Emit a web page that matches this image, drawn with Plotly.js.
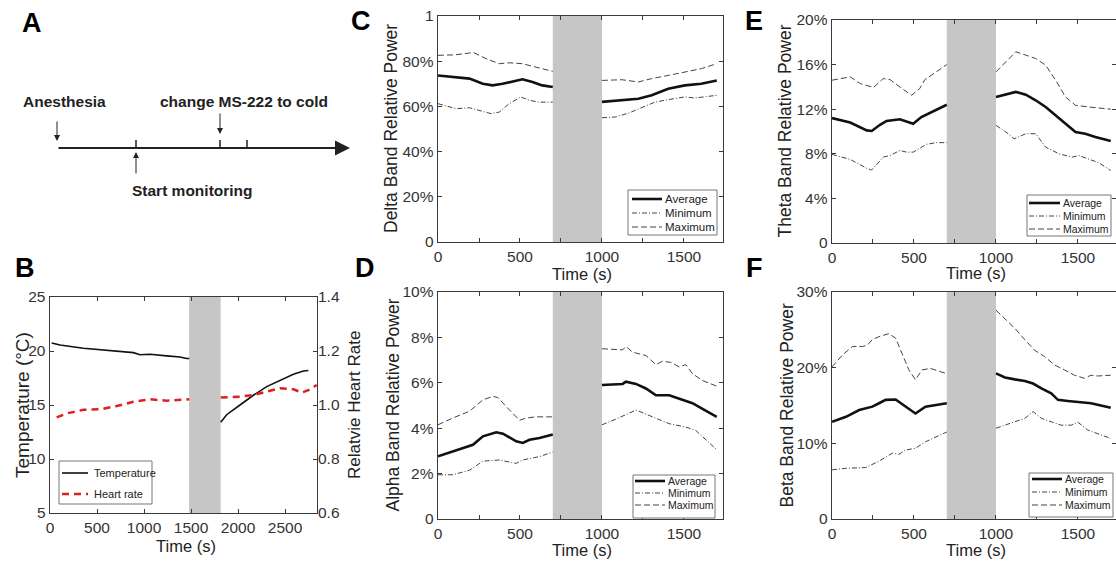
<!DOCTYPE html>
<html><head><meta charset="utf-8">
<script src="https://cdn.plot.ly/plotly-3.0.1.min.js"></script>
<style>html,body{margin:0;padding:0;background:#fff}#chart{width:1116px;height:562px}</style>
</head><body><div id="chart"></div><script>
// ---------- Panel B : temperature & heart rate ----------
const bTempTime = [18, 106, 355, 532, 887, 957, 1064, 1241, 1383, 1454, 1482, null, 1816, 1879, 2021, 2163, 2305, 2447, 2589, 2695, 2748];
const bTempVal  = [20.75, 20.55, 20.25, 20.1, 19.85, 19.65, 19.7, 19.55, 19.45, 19.3, 19.3, null, 13.4, 14.1, 15.0, 15.9, 16.7, 17.3, 17.85, 18.15, 18.2];
const bHrTime   = [71, 177, 355, 532, 710, 887, 1064, 1241, 1482, null, 1816, 2021, 2163, 2305, 2447, 2589, 2677, 2748, 2837];
const bHrVal    = [0.954, 0.969, 0.982, 0.984, 0.996, 1.012, 1.021, 1.016, 1.021, null, 1.028, 1.031, 1.037, 1.049, 1.062, 1.058, 1.046, 1.055, 1.074];
const bShade    = [1480, 1815];

// ---------- Panel C : delta band (%) ----------
const cAvgTime = [0, 192, 273, 333, 394, 495, 515, 576, 636, 700, null, 1000, 1101, 1222, 1303, 1404, 1505, 1606, 1700];
const cAvgVal  = [73.7, 72.3, 70.0, 69.3, 70.0, 71.5, 72.0, 70.8, 69.3, 68.6, null, 62.0, 62.7, 63.4, 64.9, 67.8, 69.3, 70.0, 71.5];
const cMinTime = [0, 111, 192, 253, 323, 374, 434, 505, 556, 616, 700, null, 1000, 1081, 1162, 1242, 1323, 1404, 1505, 1566, 1700];
const cMinVal  = [61.2, 59.0, 59.4, 58.3, 56.8, 57.5, 61.2, 64.2, 62.7, 61.9, 61.9, null, 55.0, 55.3, 57.0, 59.5, 61.9, 63.0, 64.2, 63.7, 64.9];
const cMaxTime = [0, 100, 192, 212, 293, 374, 434, 515, 596, 700, null, 1000, 1121, 1222, 1303, 1404, 1505, 1606, 1700];
const cMaxVal  = [82.6, 82.8, 83.6, 84.0, 81.1, 78.9, 79.3, 78.9, 77.4, 75.5, null, 71.5, 71.8, 70.8, 72.3, 73.7, 75.2, 76.7, 78.9];

// ---------- Panel D : alpha band (%) ----------
const dAvgTime = [0, 91, 152, 213, 274, 355, 396, 477, 517, 558, 619, 700, null, 1000, 1126, 1146, 1207, 1268, 1329, 1410, 1450, 1511, 1552, 1613, 1700];
const dAvgVal  = [2.76, 2.98, 3.13, 3.27, 3.64, 3.82, 3.76, 3.42, 3.35, 3.49, 3.57, 3.72, null, 5.9, 5.95, 6.05, 5.95, 5.75, 5.45, 5.45, 5.35, 5.2, 5.1, 4.85, 4.5];
const dMinTime = [0, 91, 193, 274, 375, 477, 517, 619, 700, null, 1000, 1085, 1207, 1288, 1410, 1511, 1572, 1700];
const dMinVal  = [1.95, 1.95, 2.15, 2.55, 2.6, 2.45, 2.6, 2.75, 2.95, null, 4.15, 4.4, 4.8, 4.55, 4.2, 4.05, 3.9, 3.05];
const dMaxTime = [0, 91, 193, 274, 335, 365, 416, 497, 538, 598, 700, null, 1000, 1126, 1146, 1187, 1268, 1329, 1369, 1420, 1471, 1511, 1552, 1613, 1700];
const dMaxVal  = [4.15, 4.45, 4.75, 5.25, 5.4, 5.35, 4.95, 4.35, 4.45, 4.5, 4.5, null, 7.5, 7.45, 7.6, 7.35, 7.2, 6.8, 6.95, 6.9, 6.7, 6.8, 6.4, 6.1, 5.85];

// ---------- Panel E : theta band (%) ----------
const eAvgTime = [0, 111, 212, 242, 293, 333, 414, 475, 495, 545, 616, 700, null, 1000, 1061, 1121, 1182, 1242, 1303, 1364, 1424, 1485, 1545, 1606, 1700];
const eAvgVal  = [11.2, 10.8, 10.1, 10.05, 10.6, 10.95, 11.1, 10.8, 10.7, 11.3, 11.8, 12.4, null, 13.1, 13.3, 13.55, 13.3, 12.8, 12.2, 11.45, 10.7, 9.95, 9.8, 9.5, 9.15];
const eMinTime = [0, 111, 212, 242, 313, 354, 414, 455, 495, 576, 636, 700, null, 1000, 1061, 1111, 1182, 1242, 1303, 1384, 1465, 1505, 1566, 1626, 1700];
const eMinVal  = [7.95, 7.5, 6.7, 6.55, 7.7, 7.85, 8.3, 8.15, 8.15, 8.85, 9.0, 9.0, null, 10.55, 9.95, 9.35, 9.8, 9.8, 8.6, 8.0, 7.7, 7.85, 7.5, 7.2, 6.5];
const eMaxTime = [0, 111, 172, 253, 313, 354, 414, 485, 535, 566, 636, 700, null, 1000, 1061, 1121, 1182, 1242, 1303, 1364, 1424, 1485, 1566, 1646, 1700];
const eMaxVal  = [14.6, 14.9, 14.3, 13.95, 14.75, 14.65, 14.0, 13.25, 13.85, 14.65, 15.35, 16.0, null, 15.35, 16.25, 17.15, 16.85, 16.55, 15.95, 14.6, 13.1, 12.35, 12.2, 12.05, 12.0];

// ---------- Panel F : beta band (%) ----------
const fAvgTime = [0, 85, 166, 206, 246, 287, 327, 388, 448, 509, 570, 650, 700, null, 1000, 1055, 1115, 1176, 1226, 1277, 1337, 1378, 1438, 1499, 1580, 1700];
const fAvgVal  = [12.85, 13.5, 14.4, 14.6, 14.85, 15.3, 15.75, 15.8, 14.85, 13.95, 14.85, 15.15, 15.3, null, 19.25, 18.7, 18.45, 18.25, 17.9, 17.25, 16.6, 15.75, 15.6, 15.5, 15.3, 14.7];
const fMinTime = [0, 85, 206, 287, 368, 408, 448, 509, 570, 650, 700, null, 1000, 1055, 1115, 1176, 1226, 1277, 1337, 1398, 1459, 1499, 1560, 1620, 1700];
const fMinVal  = [6.5, 6.7, 6.8, 7.65, 8.7, 8.55, 9.1, 9.35, 10.2, 11.0, 11.5, null, 12.0, 12.4, 12.85, 13.3, 14.2, 13.3, 12.85, 12.4, 12.4, 12.8, 11.75, 11.3, 10.65];
const fMaxTime = [0, 65, 125, 186, 216, 246, 287, 347, 388, 428, 469, 509, 549, 600, 650, 700, null, 1000, 1055, 1115, 1176, 1236, 1297, 1358, 1418, 1479, 1539, 1580, 1620, 1700];
const fMaxVal  = [20.1, 21.7, 22.8, 22.8, 23.0, 23.7, 24.1, 24.5, 23.9, 21.7, 19.7, 18.4, 19.7, 19.9, 19.5, 19.2, null, 27.6, 26.5, 25.2, 23.7, 22.3, 21.45, 20.35, 19.7, 19.0, 18.6, 19.0, 18.9, 19.0];

const bandShade = [700, 1000];

// tick labels
const bXTicks = [0, 500, 1000, 1500, 2000, 2500];
const bYTicks = [5, 10, 15, 20, 25];
const bY2Ticks = [0.6, 0.8, 1.0, 1.2, 1.4];
const bandXTicks = [0, 250, 500, 750, 1000, 1250, 1500, 1750];
const bandXLabels = ['0', '', '500', '', '1000', '', '1500', ''];
const cYTicks = [0, 20, 40, 60, 80, 100];
const cYLabels = ['0', '20%', '40%', '60%', '80%', '1'];
const dYTicks = [0, 2, 4, 6, 8, 10];
const dYLabels = ['0', '2%', '4%', '6%', '8%', '10%'];
const eYTicks = [0, 4, 8, 12, 16, 20];
const eYLabels = ['0', '4%', '8%', '12%', '16%', '20%'];
const fYTicks = [0, 10, 20, 30];
const fYLabels = ['0', '10%', '20%', '30%'];
const seriesNames = ['Average', 'Minimum', 'Maximum'];

// ---------- drawing ----------
const W = 1116, H = 562;
const px = x => x / W, py = y => 1 - y / H;
const FONT = 'Liberation Sans, Arial, sans-serif';
const AXC = '#3a3a3a';
const avgStyle = {color: '#111', width: 2.6};
const minStyle = {color: '#444', width: 1, dash: '5px,2px,1px,2px'};
const maxStyle = {color: '#444', width: 1, dash: '6px,3px'};
const styles = [avgStyle, minStyle, maxStyle];

const traces = [];
function band(xa, ya, t, v) {
  for (let i = 0; i < 3; i++) {
    traces.push({x: t[i], y: v[i], xaxis: xa, yaxis: ya, type: 'scatter', mode: 'lines',
      name: seriesNames[i], line: styles[i], showlegend: false, connectgaps: false});
  }
}
traces.push({x: bTempTime, y: bTempVal, xaxis: 'x', yaxis: 'y', mode: 'lines', name: 'Temperature',
  line: {color: '#111', width: 1.6}, showlegend: false});
traces.push({x: bHrTime, y: bHrVal, xaxis: 'x', yaxis: 'y2', mode: 'lines', name: 'Heart rate',
  line: {color: '#dd2020', width: 2.5, dash: '7px,5px'}, showlegend: false});
band('x2', 'y3', [cAvgTime, cMinTime, cMaxTime], [cAvgVal, cMinVal, cMaxVal]);
band('x3', 'y4', [dAvgTime, dMinTime, dMaxTime], [dAvgVal, dMinVal, dMaxVal]);
band('x4', 'y5', [eAvgTime, eMinTime, eMaxTime], [eAvgVal, eMinVal, eMaxVal]);
band('x5', 'y6', [fAvgTime, fMinTime, fMaxTime], [fAvgVal, fMinVal, fMaxVal]);

function axis(extra) {
  return Object.assign({showgrid: false, zeroline: false, showline: true, linecolor: AXC, linewidth: 1.4,
    ticks: 'inside', ticklen: 4, tickcolor: AXC, tickwidth: 1, mirror: 'ticks', fixedrange: true,
    tickfont: {family: FONT, size: 15.5, color: '#333'}, tickmode: 'array'}, extra);
}
const xCD = [px(438), px(723)], xEF = [px(832), 1];
const rangeCD = [0, 1738], rangeEF = [0, 1732];

const layout = {
  width: W, height: H, margin: {l: 0, r: 0, t: 0, b: 0},
  paper_bgcolor: '#fff', plot_bgcolor: 'rgba(0,0,0,0)', showlegend: false,
  font: {family: FONT, color: '#222'},
  xaxis: axis({domain: [px(50), px(317)], range: [0, 2840], anchor: 'y', tickvals: bXTicks}),
  yaxis: axis({domain: [py(513), py(297)], range: [5, 25], anchor: 'x', tickvals: bYTicks, mirror: true}),
  yaxis2: axis({overlaying: 'y', side: 'right', range: [0.6, 1.4], anchor: 'x', tickvals: bY2Ticks,
    ticktext: bY2Ticks.map(v => v.toFixed(1)), mirror: false, showline: false}),
  xaxis2: axis({domain: xCD, range: rangeCD, anchor: 'y3', tickvals: bandXTicks, ticktext: bandXLabels}),
  yaxis3: axis({domain: [py(242), py(16)], range: [0, 100], anchor: 'x2', tickvals: cYTicks, ticktext: cYLabels}),
  xaxis3: axis({domain: xCD, range: rangeCD, anchor: 'y4', tickvals: bandXTicks, ticktext: bandXLabels}),
  yaxis4: axis({domain: [py(519), py(292)], range: [0, 10], anchor: 'x3', tickvals: dYTicks, ticktext: dYLabels}),
  xaxis4: axis({domain: xEF, range: rangeEF, anchor: 'y5', tickvals: bandXTicks, ticktext: bandXLabels}),
  yaxis5: axis({domain: [py(243), py(20)], range: [0, 20], anchor: 'x4', tickvals: eYTicks, ticktext: eYLabels}),
  xaxis5: axis({domain: xEF, range: rangeEF, anchor: 'y6', tickvals: bandXTicks, ticktext: bandXLabels}),
  yaxis6: axis({domain: [py(519), py(292)], range: [0, 30], anchor: 'x5', tickvals: fYTicks, ticktext: fYLabels}),
  shapes: [], annotations: []
};

const SH = '#c6c6c6';
layout.shapes.push({type: 'rect', xref: 'x', yref: 'y domain', x0: bShade[0], x1: bShade[1], y0: 0, y1: 1, fillcolor: SH, line: {width: 0}, layer: 'below'});
[['x2', 'y3'], ['x3', 'y4'], ['x4', 'y5'], ['x5', 'y6']].forEach(([xa, ya]) => {
  layout.shapes.push({type: 'rect', xref: xa, yref: ya + ' domain', x0: bandShade[0], x1: bandShade[1], y0: 0, y1: 1, fillcolor: SH, line: {width: 0}, layer: 'below'});
});

// legends (pixel boxes)
function legend(box, rows, lx0, lx1, tx, fs, names, lineStyles) {
  layout.shapes.push({type: 'rect', xref: 'paper', yref: 'paper', x0: px(box[0]), x1: px(box[1]), y0: py(box[3]), y1: py(box[2]),
    line: {color: '#777', width: 1}, fillcolor: '#fff'});
  rows.forEach((r, i) => {
    layout.shapes.push({type: 'line', xref: 'paper', yref: 'paper', x0: px(lx0), x1: px(lx1), y0: py(r), y1: py(r), line: lineStyles[i]});
    layout.annotations.push({xref: 'paper', yref: 'paper', x: px(tx), y: py(r), text: names[i], showarrow: false,
      xanchor: 'left', yanchor: 'middle', font: {family: FONT, size: fs, color: '#222'}});
  });
}
legend([628, 717, 190, 235], [199, 213, 227], 632, 662, 663, 11.5, seriesNames, styles);
legend([633, 715, 475, 518], [481, 493, 505], 635, 665, 666, 10.5, seriesNames, styles);
legend([1027, 1111, 195, 236], [203, 216, 229], 1029, 1060, 1061, 10.5, seriesNames, styles);
legend([1029, 1113, 473, 517], [479, 492, 505], 1032, 1062, 1063, 10.5, seriesNames, styles);
legend([59, 152, 461, 504], [473, 494], 62, 88, 92, 11, ['Temperature', 'Heart rate'],
  [{color: '#111', width: 1.6}, {color: '#dd2020', width: 2.5, dash: '7px,5px'}]);

function txt(x, y, text, size, opts) {
  layout.annotations.push(Object.assign({xref: 'paper', yref: 'paper', x: px(x), y: py(y), text: text, showarrow: false,
    xanchor: 'center', yanchor: 'middle', font: {family: FONT, size: size, color: '#222'}}, opts || {}));
}
// axis titles
txt(22, 405, 'Temperature (°C)', 19, {textangle: -90});
txt(354, 405, 'Relatvie Heart Rate', 17, {textangle: -90});
txt(186, 546, 'Time (s)', 16.5);
txt(391, 129, 'Delta Band Relative Power', 17.5, {textangle: -90});
txt(392, 405.5, 'Alpha Band Relative Power', 17.5, {textangle: -90});
txt(784, 131.5, 'Theta Band Relative Power', 17.5, {textangle: -90});
txt(786, 405.5, 'Beta Band Relative Power', 17.5, {textangle: -90});
txt(582, 274, 'Time (s)', 16.5);
txt(582, 550, 'Time (s)', 16.5);
txt(976, 273, 'Time (s)', 16.5);
txt(976, 550, 'Time (s)', 16.5);
// panel letters
[['A', 32, 23], ['B', 25, 268], ['C', 361, 21], ['D', 365, 268], ['E', 754, 21], ['F', 754, 268]].forEach(([t, x, y]) =>
  txt(x, y, '<b>' + t + '</b>', 27, {font: {family: FONT, size: 27, color: '#000'}}));

// Panel A schematic
const bold = s => '<b>' + s + '</b>';
txt(64, 102, bold('Anesthesia'), 15.5);
txt(244, 102, bold('change MS-222 to cold'), 15.5);
txt(192, 190, bold('Start monitoring'), 15.5);
function arrow(x, y, ax, ay, w, size) {
  layout.annotations.push({xref: 'paper', yref: 'paper', x: px(x), y: py(y), ax: ax, ay: ay, text: '', showarrow: true,
    arrowhead: 2, arrowsize: size, arrowwidth: w, arrowcolor: '#222', standoff: 0, startstandoff: 0});
}
arrow(350, 148, -293, 0, 2, 1.5);
arrow(57, 141, 0, -21, 1, 1.2);
arrow(220, 134, 0, -22, 1, 1.2);
arrow(136, 152, 0, 23, 1, 1.2);
[136, 220, 247].forEach(x => layout.shapes.push({type: 'line', xref: 'paper', yref: 'paper', x0: px(x), x1: px(x), y0: py(140), y1: py(148), line: {color: '#222', width: 1.5}}));

Plotly.newPlot('chart', traces, layout, {staticPlot: true, displayModeBar: false});
</script></body></html>
